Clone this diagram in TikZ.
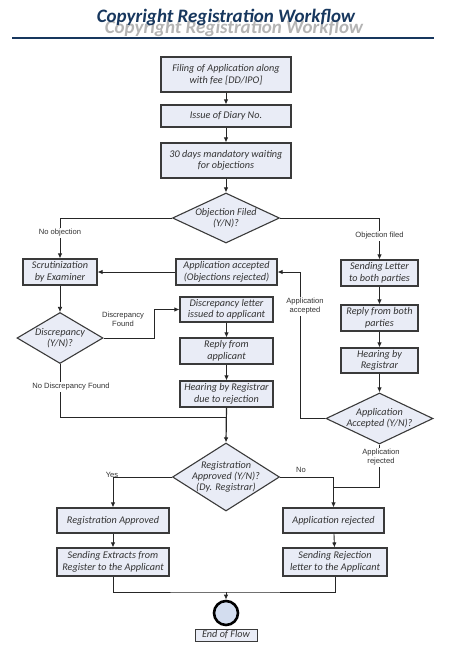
\documentclass[tikz,border=0pt]{standalone}
\usepackage{fontspec}
\setmainfont{Carlito}
\newfontfamily\labfont{Liberation Sans}
\usetikzlibrary{shapes.geometric,arrows.meta}
\definecolor{boxfill}{HTML}{E9ECF6}
\definecolor{boxline}{HTML}{3A3A3A}
\definecolor{titleblue}{HTML}{17375E}
\definecolor{shadowgray}{HTML}{B4B4B4}
\definecolor{endfill}{HTML}{D3DDEF}
\tikzset{
  flowbox/.style={draw=boxline, line width=1.1pt, fill=boxfill, inner sep=1pt,
    align=center, font=\fontsize{10.2}{11.5}\selectfont\itshape, text=black!80},
  decision/.style={draw=boxline, line width=1.1pt, fill=boxfill, shape=diamond, inner sep=0pt},
  dtext/.style={align=center, inner sep=0pt, font=\fontsize{10.2}{11.2}\selectfont\itshape, text=black!80},
  conn/.style={line width=0.9pt, black!85},
  arr/.style={conn, -{Latex[length=5pt,width=4.5pt]}},
  lab/.style={font=\labfont\fontsize{7.6}{9}\selectfont, text=black!80, align=center, inner sep=1pt},
}
\begin{document}
\begin{tikzpicture}[x=1pt,y=-1pt]
\useasboundingbox[fill=white] (0,0) rectangle (456,649);
% title
\node[font=\fontsize{19}{22}\selectfont\bfseries\itshape, text=shadowgray] (tshadow) at (234,28) {Copyright Registration Workflow};
\node[font=\fontsize{19}{22}\selectfont\bfseries\itshape, text=titleblue] (title) at (226,17) {Copyright Registration Workflow};
\coordinate (ruleL) at (12,38);
\coordinate (ruleR) at (434,38);
\draw[titleblue, line width=1.6pt] (ruleL) -- (ruleR);

% boxes
\node[flowbox, minimum width=130pt, minimum height=35pt] (b1) at (226,74.5) {Filing of Application along\\with fee [DD/IPO]};
\node[flowbox, minimum width=130pt, minimum height=22pt] (b2) at (226,116) {Issue of Diary No.};
\node[flowbox, minimum width=130pt, minimum height=35pt] (b3) at (226,160.5) {30 days mandatory waiting\\for objections};
\node[decision, minimum width=107pt, minimum height=50pt] (d1) at (226,218) {};
\node[dtext] (d1t) at (d1.center) {Objection Filed\\(Y/N)?};

\node[flowbox, minimum width=74pt, minimum height=26pt] (scrut) at (60,272) {Scrutinization\\by Examiner};
\node[flowbox, minimum width=101pt, minimum height=26pt] (appacc) at (226.5,272) {Application accepted\\(Objections rejected)};
\node[flowbox, minimum width=77pt, minimum height=26pt] (send) at (379.5,273) {Sending Letter\\to both parties};

\node[flowbox, minimum width=93pt, minimum height=25pt] (dletter) at (226.5,309.5) {Discrepancy letter\\issued to applicant};
\node[flowbox, minimum width=77pt, minimum height=26pt] (rboth) at (379.5,318) {Reply from both\\parties};
\node[decision, minimum width=86pt, minimum height=51pt] (d2) at (60,338) {};
\node[dtext] (d2t) at (d2.center) {Discrepancy\\(Y/N)?};
\node[flowbox, minimum width=93pt, minimum height=26pt] (rapp) at (226.5,351) {Reply from\\applicant};
\node[flowbox, minimum width=77pt, minimum height=25pt] (hear) at (379.5,360.5) {Hearing by\\Registrar};
\node[flowbox, minimum width=93pt, minimum height=26pt] (hrej) at (226.5,394) {Hearing by Registrar\\due to rejection};
\node[decision, minimum width=107pt, minimum height=51pt] (d3) at (379.5,418.5) {};
\node[dtext] (d3t) at (d3.center) {Application\\Accepted (Y/N)?};

\node[decision, minimum width=107pt, minimum height=68pt] (d4) at (226,477) {};
\node[dtext] (d4t) at (d4.center) {Registration\\Approved (Y/N)?\\(Dy. Registrar)};

\node[flowbox, minimum width=112pt, minimum height=25pt] (regapp) at (113,520.5) {Registration Approved};
\node[flowbox, minimum width=101pt, minimum height=25pt] (apprej) at (333.5,520.5) {Application rejected};
\node[flowbox, minimum width=112pt, minimum height=28pt] (sext) at (113,562) {Sending Extracts from\\Register to the Applicant};
\node[flowbox, minimum width=104pt, minimum height=28pt] (srej) at (335,562) {Sending Rejection\\letter to the Applicant};

\node[circle, draw=black, line width=2.6pt, fill=endfill, minimum size=24pt, inner sep=0pt] (endc) at (226,613) {};
\node[flowbox, line width=0.9pt, minimum width=62pt, minimum height=12pt, inner sep=0.5pt] (endf) at (226,635) {End of Flow};

% connectors
\draw[arr] (b1) -- (b2);
\draw[arr] (b2) -- (b3);
\draw[arr] (b3) -- (d1);
\draw[arr] (d1.west) -| (scrut.north);
\draw[arr] (d1.east) -| (send.north);
\draw[arr] (appacc.west) -- (scrut.east);
\draw[arr, line width=0.6pt] (scrut.south) -- (d2.north);
\coordinate (dk) at (154,338);
\draw[arr] (d2.east) -- (dk) |- (dletter.west);
\draw[arr] (dletter) -- (rapp);
\draw[arr] (rapp) -- (hrej);
\draw[arr] (send) -- (rboth);
\draw[arr] (rboth) -- (hear);
\draw[arr] (hear) -- (d3);
\coordinate (ak) at (300,418.5);
\draw[arr] (d3.west) -- (ak) |- (appacc.east);
\coordinate (nd) at (226.5,417);
\draw[conn] (d2.south) |- (nd);
\draw[arr, line width=1.2pt] (hrej.south) -- (d4.north);
\draw[arr] (d4.west) -| (regapp.north);
\draw[arr] (d4.east) -| (apprej.north);
\coordinate (rj) at (333.5,487);
\draw[conn] (d3.south) |- (rj);
\draw[arr] (regapp) -- (sext);
\draw[arr] (apprej) -- (srej);
\coordinate (mg) at (226,592);
\draw[conn] (sext.south) |- (mg) -| (srej.south);
\draw[arr] (mg) -- (endc.north);

% labels
\node[lab, fill=white] (lno) at (60,233) {No objection};
\node[lab, fill=white] (lobj) at (379.5,236) {Objection filed};
\node[lab] (ldf) at (123,319.5) {Discrepancy\\Found};
\node[lab, fill=white] (laa) at (305,306.5) {Application\\accepted};
\node[lab, fill=white] (lndf) at (71,387) {No Discrepancy Found};
\node[lab, fill=white] (lar) at (381,457.5) {Application\\rejected};
\node[lab] (lyes) at (112,475) {Yes};
\node[lab] (lno2) at (301,470) {No};
\end{tikzpicture}
\end{document}
